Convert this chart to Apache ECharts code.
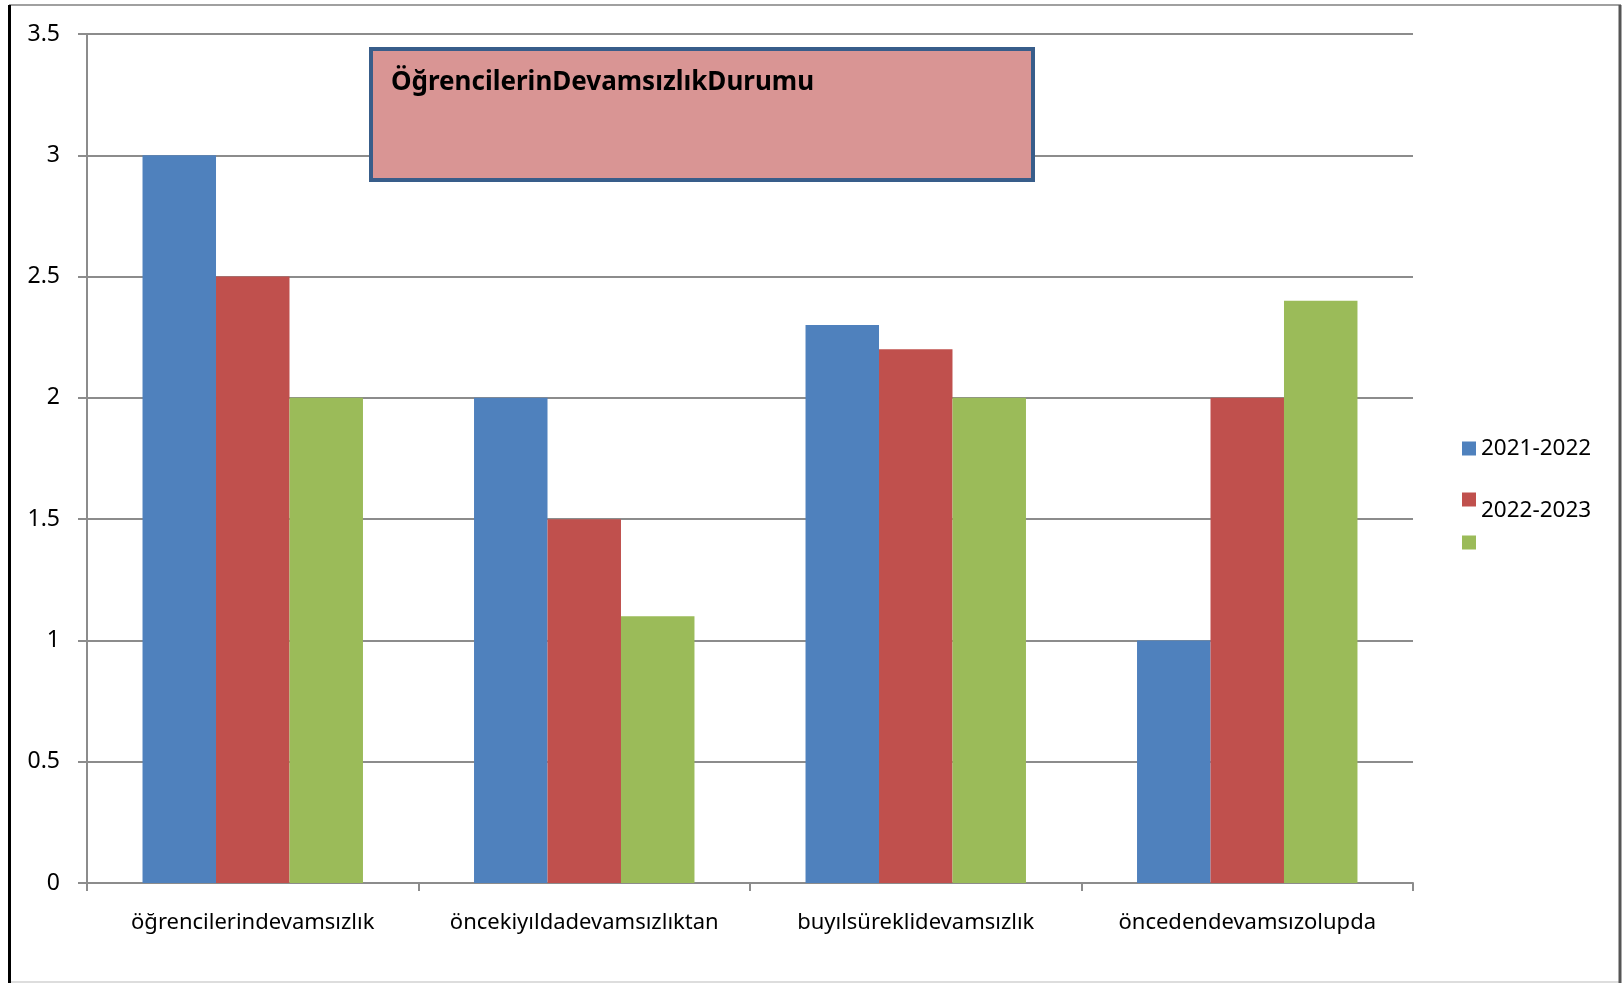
<!DOCTYPE html>
<html>
<head>
<meta charset="utf-8">
<title>ÖğrencilerinDevamsızlıkDurumu</title>
<script src="https://cdn.jsdelivr.net/npm/echarts@6/dist/echarts.min.js"></script>
<style>
    html, body { margin: 0; padding: 0; background: #fff; }
    #main { width: 1623px; height: 983px; }
</style>
</head>
<body>
<div id="main"></div>
<script>
// kategoriler ve seriler
var categories = ['öğrencilerindevamsızlık', 'öncekiyıldadevamsızlıktan', 'buyılsüreklidevamsızlık', 'öncedendevamsızolupda'];
var seriesNames = ['2021-2022', '2022-2023', ' '];
var values2021 = [3, 2, 2.3, 1];
var values2022 = [2.5, 1.5, 2.2, 2];
var valuesThird = [2, 1.1, 2, 2.4];
var yTicks = [0, 0.5, 1, 1.5, 2, 2.5, 3, 3.5];

var colors = ['#4F81BD', '#C0504D', '#9BBB59'];
var FONT = 'Noto Sans';

RenderChart();

/**
 * grafik
 */
function RenderChart() {
    var dom = document.getElementById('main');
    var chart = echarts.init(dom);
    var option;

    var seriesValues = [values2021, values2022, valuesThird];
    var series = [];
    for (var i = 0; i < seriesNames.length; i++) {
        series.push({
            name: seriesNames[i],
            type: 'bar',
            data: seriesValues[i],
            barGap: 0,
            barCategoryGap: '33.5%',
            itemStyle: { color: colors[i] },
            z: 2
        });
    }

    // her seri için ayrı lejant (ikinci yazı kutunun biraz altında)
    var legendTops = [432, 472, 526];
    var legends = [];
    for (var j = 0; j < seriesNames.length; j++) {
        legends.push({
            orient: 'vertical',
            left: 1457,
            top: legendTops[j],
            icon: 'rect',
            itemWidth: 14,
            itemHeight: 14,
            itemGap: 0,
            selectedMode: false,
            data: [seriesNames[j]],
            formatter: j === 1 ? function (name) { return '\n' + name; } : '{name}',
            textStyle: {
                fontFamily: FONT,
                fontSize: 22.5,
                color: '#000',
                lineHeight: j === 1 ? 22 : null
            }
        });
    }

    option = {
        animation: false,
        backgroundColor: '#fff',
        color: colors,
        title: {
            text: 'ÖğrencilerinDevamsızlıkDurumu',
            left: 386,
            top: 65,
            z: 10,
            textStyle: {
                fontFamily: FONT,
                fontWeight: 'bold',
                fontSize: 26,
                color: '#000'
            }
        },
        legend: legends,
        grid: {
            left: 87,
            right: 210,
            top: 34,
            bottom: 100,
            containLabel: false
        },
        xAxis: {
            type: 'category',
            data: categories,
            boundaryGap: true,
            axisLine: { lineStyle: { color: '#8C8C8C', width: 2 } },
            axisTick: { show: true, length: 8, alignWithLabel: false, lineStyle: { color: '#8C8C8C', width: 2 } },
            axisLabel: {
                fontFamily: FONT,
                fontSize: 22,
                color: '#000',
                margin: 29,
                interval: 0
            },
            splitLine: { show: false }
        },
        yAxis: {
            type: 'value',
            min: yTicks[0],
            max: yTicks[yTicks.length - 1],
            interval: 0.5,
            axisLine: { show: true, lineStyle: { color: '#8C8C8C', width: 2 } },
            axisTick: { show: true, length: 9, lineStyle: { color: '#8C8C8C', width: 2 } },
            axisLabel: {
                fontFamily: FONT,
                fontSize: 23,
                color: '#000',
                margin: 27
            },
            splitLine: { lineStyle: { color: '#8C8C8C', width: 2 } }
        },
        graphic: [
            // başlık kutusu
            {
                type: 'rect',
                z: 5,
                shape: { x: 371, y: 49, width: 662, height: 131 },
                style: { fill: '#D99594', stroke: '#385D8A', lineWidth: 4 }
            },
            // dış çerçeve
            { type: 'line', z: 20, shape: { x1: 9, y1: 5, x2: 1621, y2: 5 }, style: { stroke: '#A0A0A0', lineWidth: 2 } },
            { type: 'line', z: 20, shape: { x1: 9, y1: 982, x2: 1621, y2: 982 }, style: { stroke: '#DDDDDD', lineWidth: 2 } },
            { type: 'line', z: 20, shape: { x1: 1620, y1: 5, x2: 1620, y2: 983 }, style: { stroke: '#555555', lineWidth: 3 } },
            { type: 'line', z: 20, shape: { x1: 9.5, y1: 5, x2: 9.5, y2: 983 }, style: { stroke: '#000000', lineWidth: 3 } }
        ],
        series: series
    };

    if (option && typeof option === 'object') {
        chart.setOption(option);
    }

    window.addEventListener('resize', function () {
        chart.resize();
    });
}
</script>
</body>
</html>
